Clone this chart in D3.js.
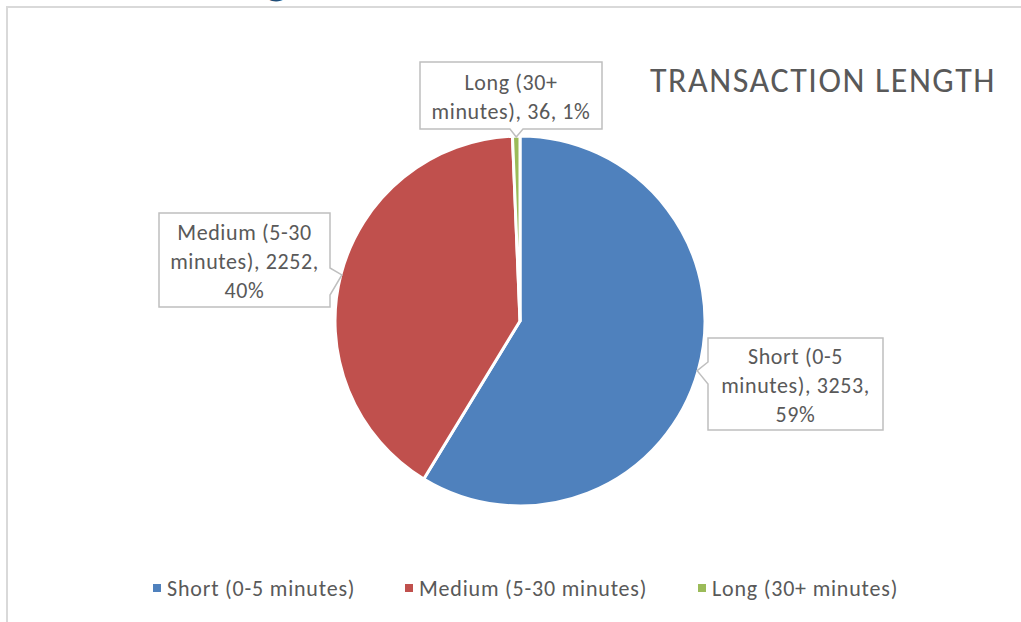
<!DOCTYPE html>
<html>
<head>
<meta charset="utf-8">
<script src="https://cdn.jsdelivr.net/npm/d3@7"></script>
<style>
  html, body { margin: 0; padding: 0; background: #fff; }
  svg { display: block; }
  text { font-family: Carlito, Calibri, Lato, "Open Sans", sans-serif; }
</style>
</head>
<body>
<svg id="chart" width="1021" height="622"></svg>
<script>
// Transaction length breakdown
const categories = ["Short (0-5 minutes)", "Medium (5-30 minutes)", "Long (30+ minutes)"];
const counts = [3253, 2252, 36];
const percentLabels = ["59%", "40%", "1%"];
const colors = ["#4F81BD", "#C0504D", "#9BBB59"];
const chartTitle = "TRANSACTION LENGTH";

const W = 1021, H = 622;
const svg = d3.select("#chart");
const textColor = "#595959";

// heading above the chart frame (only its descender shows)
svg.append("text")
  .attr("x", 266).attr("y", -6.5)
  .attr("font-size", 44).attr("font-weight", "bold")
  .attr("fill", "#1F4E79")
  .text("g");

// chart frame
svg.append("path")
  .attr("d", `M7,${H} L7,7 L${W},7`)
  .attr("fill", "none")
  .attr("stroke", "#D9D9D9")
  .attr("stroke-width", 2);

// title
svg.append("text")
  .attr("x", 650).attr("y", 92)
  .attr("font-size", 34)
  .attr("letter-spacing", 1.5)
  .attr("fill", textColor)
  .text(chartTitle);

// pie
const cx = 520, cy = 321, R = 185;
const data = categories.map((c, i) => ({ name: c, value: counts[i], pct: percentLabels[i], color: colors[i] }));
const pie = d3.pie().value(d => d.value).sort(null).startAngle(0).endAngle(2 * Math.PI);
const arcs = pie(data);
const arc = d3.arc().innerRadius(0).outerRadius(R);

const g = svg.append("g").attr("transform", `translate(${cx},${cy})`);
g.selectAll("path.slice")
  .data(arcs)
  .join("path")
  .attr("class", "slice")
  .attr("d", arc)
  .attr("fill", d => d.data.color)
  .attr("stroke", "#fff")
  .attr("stroke-width", 3)
  .attr("stroke-linejoin", "round");

// callout boxes: box geometry, side carrying the pointer, and pointer base span
const callouts = [
  { box: [708, 338, 175, 92], side: "left", base: [362, 384] },
  { box: [159, 213, 171, 94], side: "right", base: [268, 295] },
  { box: [420, 62, 182, 67], side: "bottom", base: [510, 523] }
];

const edgeArc = d3.arc().innerRadius(R - 1).outerRadius(R - 1);

function calloutPath(c, tip) {
  const [x, y, w, h] = c.box;
  const [a, b] = c.base;
  const [tx, ty] = tip;
  if (c.side === "left")
    return `M${x},${y} L${x + w},${y} L${x + w},${y + h} L${x},${y + h} L${x},${b} L${tx},${ty} L${x},${a} Z`;
  if (c.side === "right")
    return `M${x},${y} L${x + w},${y} L${x + w},${a} L${tx},${ty} L${x + w},${b} L${x + w},${y + h} L${x},${y + h} Z`;
  return `M${x},${y} L${x + w},${y} L${x + w},${y + h} L${b},${y + h} L${tx},${ty} L${a},${y + h} L${x},${y + h} Z`;
}

const labelSize = 22;
const labelSpacing = 0.6;
const lineGap = 29;

arcs.forEach((d, i) => {
  const c = callouts[i];
  const [ex, ey] = edgeArc.centroid(d);
  const tip = [cx + ex, cy + ey];
  svg.append("path")
    .attr("d", calloutPath(c, tip))
    .attr("fill", "#fff")
    .attr("stroke", "#BFBFBF")
    .attr("stroke-width", 1.5);

  // wrap "name, value, pct" inside the box
  const full = `${d.data.name}, ${d.data.value}, ${d.data.pct}`;
  const words = full.split(" ");
  const maxW = c.box[2] - 8;
  const probe = svg.append("text").attr("font-size", labelSize)
    .attr("letter-spacing", labelSpacing).attr("visibility", "hidden");
  const lines = [];
  let cur = "";
  words.forEach(wd => {
    const test = cur ? cur + " " + wd : wd;
    probe.text(test);
    if (probe.node().getComputedTextLength() > maxW && cur) {
      lines.push(cur);
      cur = wd;
    } else {
      cur = test;
    }
  });
  if (cur) lines.push(cur);
  probe.remove();

  const [bx, by, bw, bh] = c.box;
  const midY = by + bh / 2 + 1;
  const t = svg.append("text")
    .attr("font-size", labelSize)
    .attr("letter-spacing", labelSpacing)
    .attr("fill", textColor)
    .attr("text-anchor", "middle");
  lines.forEach((ln, k) => {
    t.append("tspan")
      .attr("x", bx + bw / 2)
      .attr("y", midY + (k - (lines.length - 1) / 2) * lineGap)
      .attr("dy", "0.35em")
      .text(ln);
  });
});

// legend
const legendX = [153, 405, 698];
const legendY = 588;
const lg = svg.append("g");
data.forEach((d, i) => {
  lg.append("rect")
    .attr("x", legendX[i]).attr("y", legendY - 4)
    .attr("width", 8).attr("height", 8)
    .attr("fill", d.color);
  lg.append("text")
    .attr("x", legendX[i] + 14).attr("y", legendY)
    .attr("dy", "0.35em")
    .attr("font-size", 22)
    .attr("letter-spacing", 0.8)
    .attr("fill", textColor)
    .text(d.name);
});
</script>
</body>
</html>
